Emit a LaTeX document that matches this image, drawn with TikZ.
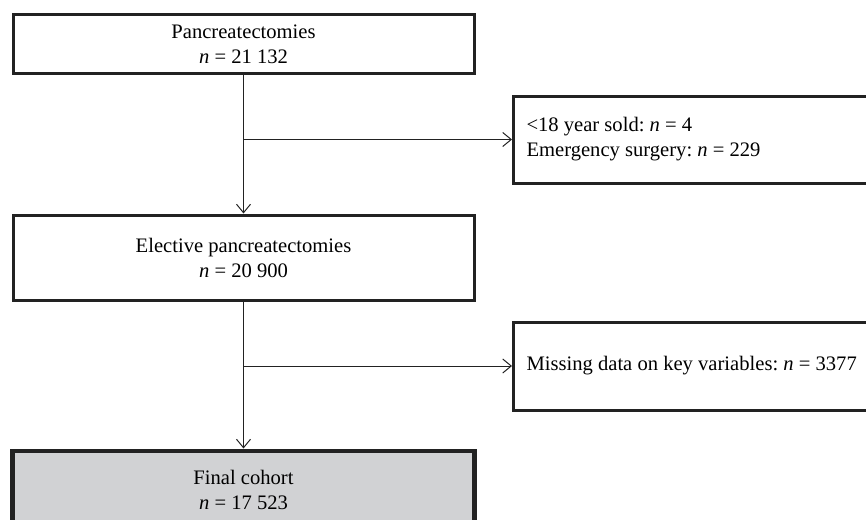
\documentclass[tikz,border=0pt]{standalone}
\usepackage{fontspec}
\setmainfont{Liberation Serif}
\usetikzlibrary{arrows.meta}
\definecolor{borde}{RGB}{34,34,34}
\definecolor{grisfinal}{RGB}{209,210,212}
\frenchspacing

\begin{document}
\begin{tikzpicture}[x=1pt, y=-1pt,
    caja/.style={draw=borde, line width=3pt, minimum width=461pt, align=center, inner sep=0pt,
        font=\fontsize{20.6}{25}\selectfont},
    exclusion/.style={draw=borde, line width=3pt, anchor=west, align=flush left, text width=370pt,
        inner xsep=13pt, inner ysep=0pt, font=\fontsize{20.6}{25}\selectfont},
    flecha/.style={borde, line width=1pt, -{Straight Barb[length=8.5pt,width=14pt]}}]
    % Marco
    \clip (0,0) rectangle (866,519);

    % Cajas principales
    \node[caja, minimum height=58pt] (pan) at (243.5,44) {Pancreatectomies\\\textit{n} = 21 132};
    \node[caja, minimum height=85pt] (elec) at (243.5,257.5) {Elective pancreatectomies\\\textit{n} = 20 900};
    \node[caja, line width=4pt, fill=grisfinal, minimum width=463pt, minimum height=78pt] (final) at (243.5,489.5) {Final cohort\\\textit{n} = 17 523};
    % Borde interior
    \draw[borde, line width=0.9pt] ([shift={(4.2pt,-4.2pt)}]final.north west) rectangle ([shift={(-4.2pt,4.2pt)}]final.south east);

    % Cajas de exclusion
    \node[exclusion, minimum height=87pt] (excl1) at (512,139.5) {<18 year sold: \textit{n} = 4\\Emergency surgery: \textit{n} = 229};
    \node[exclusion, minimum height=88pt] (excl2) at (512,366) {Missing data on key variables: \textit{n} = 3377};

    % Flechas
    \draw[flecha] (pan) -- (elec);
    \coordinate (rama1) at (pan.south |- excl1.west);
    \draw[flecha] (rama1) -- (excl1.west);
    \draw[flecha] (elec) -- (final);
    \coordinate (rama2) at (elec.south |- excl2.west);
    \draw[flecha] (rama2) -- (excl2.west);
\end{tikzpicture}
\end{document}
